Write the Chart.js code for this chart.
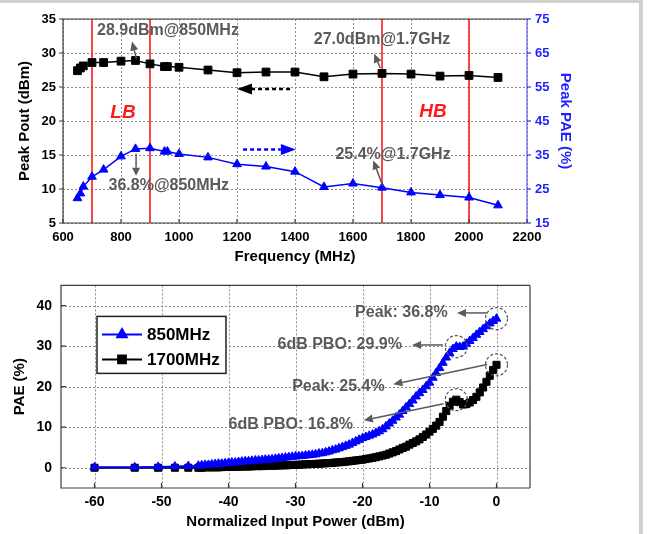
<!DOCTYPE html>
<html>
<head>
<meta charset="utf-8">
<title>Peak Pout / PAE</title>
<script src="https://cdn.jsdelivr.net/npm/chart.js@4.4.0/dist/chart.umd.min.js"></script>
<style>
  body { margin: 0; background: #fff; }
  #wrap { position: relative; width: 648px; height: 534px; overflow: hidden; background: #fff; }
  canvas { position: absolute; left: 0; }
  #topChart { top: 0; }
  #bottomChart { top: 268px; }
  .edge { position: absolute; background: #cfcfcf; }
</style>
</head>
<body>
<div id="wrap">
  <canvas id="topChart" width="648" height="268"></canvas>
  <canvas id="bottomChart" width="648" height="266"></canvas>
  <div class="edge" style="left:0;top:0;width:643px;height:3px"></div>
  <div class="edge" style="left:639px;top:0;width:4px;height:534px"></div>
</div>
<script>
// --- sweep over frequency ---
const freqMHz  = [650, 660, 670, 700, 740, 800, 850, 900, 950, 960, 1000, 1100, 1200, 1300, 1400, 1500, 1600, 1700, 1800, 1900, 2000, 2100];
const peakPout = [27.4, 27.8, 28.1, 28.6, 28.6, 28.8, 28.9, 28.4, 28.0, 28.0, 27.9, 27.5, 27.1, 27.2, 27.2, 26.5, 26.9, 27.0, 26.9, 26.6, 26.7, 26.4];
const peakPAE  = [22.3, 23.7, 25.7, 28.6, 30.7, 34.6, 36.8, 37.0, 36.0, 36.0, 35.3, 34.3, 32.3, 31.6, 30.1, 25.6, 26.6, 25.4, 24.0, 23.2, 22.5, 20.2];
const bandEdges = [700, 900, 1700, 2000];

// --- PAE vs normalized input power ---
const pinDbm = [-60, -54, -50.5, -48, -46, -44.5,
  -44, -43.5, -43, -42.5, -42, -41.5, -41, -40.5, -40,
  -39.5, -39, -38.5, -38, -37.5, -37, -36.5, -36, -35.5, -35,
  -34.5, -34, -33.5, -33, -32.5, -32, -31.5, -31, -30.5, -30,
  -29.5, -29, -28.5, -28, -27.5, -27, -26.5, -26, -25.5, -25,
  -24.5, -24, -23.5, -23, -22.5, -22, -21.5, -21, -20.5, -20,
  -19.5, -19, -18.5, -18, -17.5, -17, -16.5, -16, -15.5, -15,
  -14.5, -14, -13.5, -13, -12.5, -12, -11.5, -11, -10.5, -10,
  -9.5, -9, -8.5, -8, -7.5, -7, -6.5, -6, -5.5, -5,
  -4.5, -4, -3.5, -3, -2.5, -2, -1.5, -1, -0.5, 0];
const pae850 = [0.1, 0.1, 0.2, 0.3, 0.4, 0.5,
  0.6, 0.7, 0.7, 0.8, 0.9, 1.0, 1.0, 1.1, 1.2,
  1.3, 1.3, 1.4, 1.5, 1.6, 1.6, 1.7, 1.8, 1.8, 1.9,
  2.0, 2.0, 2.1, 2.2, 2.3, 2.4, 2.5, 2.6, 2.7, 2.8,
  2.85, 2.9, 3.0, 3.1, 3.2, 3.3, 3.5, 3.6, 3.8, 4.0,
  4.3, 4.5, 4.8, 5.1, 5.4, 5.7, 6.1, 6.5, 6.9, 7.3,
  7.6, 7.9, 8.2, 8.6, 9.0, 9.5, 10.2, 10.9, 11.6, 12.4,
  13.1, 14.0, 14.9, 15.7, 16.6, 17.6, 18.4, 19.2, 20.1, 21.0,
  22.2, 23.4, 24.6, 25.9, 27.2, 28.3, 29.3, 29.9, 29.8, 29.9,
  30.6, 31.3, 32.0, 32.8, 33.5, 34.2, 34.9, 35.6, 36.2, 36.8];
const pae1700 = [0, 0, 0, 0, 0, 0,
  0.0, 0.1, 0.1, 0.1, 0.1, 0.1, 0.15, 0.2, 0.2,
  0.2, 0.2, 0.25, 0.3, 0.3, 0.3, 0.35, 0.4, 0.4, 0.4,
  0.45, 0.5, 0.5, 0.5, 0.55, 0.6, 0.6, 0.65, 0.7, 0.7,
  0.75, 0.8, 0.85, 0.9, 0.9, 0.95, 1.0, 1.05, 1.1, 1.15,
  1.2, 1.3, 1.35, 1.4, 1.5, 1.6, 1.7, 1.8, 1.9, 2.0,
  2.15, 2.3, 2.45, 2.6, 2.8, 3.0, 3.2, 3.5, 3.8, 4.1,
  4.5, 4.9, 5.2, 5.7, 6.1, 6.5, 7.0, 7.6, 8.2, 8.9,
  9.6, 10.4, 11.3, 12.6, 14.0, 15.3, 16.3, 16.8, 16.2, 15.6,
  15.7, 16.1, 16.7, 17.5, 18.6, 19.8, 21.2, 22.7, 24.1, 25.4];
const pinTicks = [-60, -50, -40, -30, -20, -10, 0];
const paeTicks = [0, 10, 20, 30, 40];

const FONT = "'Liberation Sans', Arial, sans-serif";
const BLUE = '#0000ff';
const NOTE = '#5a5a5a';
Chart.defaults.font.family = FONT;

const toXY = (xs, ys) => xs.map((x, i) => ({ x: x, y: ys[i] }));

function arrow(ctx, x1, y1, x2, y2, color, width, dash, hl, hw) {
  const a = Math.atan2(y2 - y1, x2 - x1);
  const c = Math.cos(a), s = Math.sin(a);
  ctx.save();
  ctx.strokeStyle = color;
  ctx.fillStyle = color;
  ctx.lineWidth = width;
  ctx.setLineDash(dash || []);
  ctx.beginPath();
  ctx.moveTo(x1, y1);
  ctx.lineTo(x2 - c * hl, y2 - s * hl);
  ctx.stroke();
  ctx.setLineDash([]);
  ctx.beginPath();
  ctx.moveTo(x2, y2);
  ctx.lineTo(x2 - c * hl - s * hw, y2 - s * hl + c * hw);
  ctx.lineTo(x2 - c * hl + s * hw, y2 - s * hl - c * hw);
  ctx.closePath();
  ctx.fill();
  ctx.restore();
}

function note(ctx, text, x, y, color, font) {
  ctx.save();
  ctx.fillStyle = color;
  ctx.font = font;
  ctx.textAlign = 'center';
  ctx.textBaseline = 'middle';
  ctx.fillText(text, x, y);
  ctx.restore();
}

// dotted grid, drawn by hand so the dots stay crisp
function dottedGrid(ctx, a, xs, ys) {
  ctx.save();
  ctx.strokeStyle = '#8f8f8f';
  ctx.lineWidth = 1;
  ctx.setLineDash([2, 2]);
  ctx.beginPath();
  xs.forEach(p => {
    const px = Math.round(p) + 0.5;
    ctx.moveTo(px, a.top);
    ctx.lineTo(px, a.bottom);
  });
  ys.forEach(p => {
    const py = Math.round(p) + 0.5;
    ctx.moveTo(a.left, py);
    ctx.lineTo(a.right, py);
  });
  ctx.stroke();
  ctx.restore();
}

function frame(ctx, a, rightColor) {
  ctx.save();
  ctx.lineWidth = 1.2;
  ctx.strokeStyle = '#3c3c3c';
  ctx.beginPath();
  ctx.moveTo(a.right, a.top);
  ctx.lineTo(a.left, a.top);
  ctx.lineTo(a.left, a.bottom);
  ctx.lineTo(a.right, a.bottom);
  ctx.stroke();
  ctx.strokeStyle = rightColor;
  ctx.beginPath();
  ctx.moveTo(a.right, a.top);
  ctx.lineTo(a.right, a.bottom);
  ctx.stroke();
  ctx.restore();
}

// short tick marks; positive len points into the plot
function tickMarks(ctx, scale, a, color, len) {
  ctx.save();
  ctx.strokeStyle = color;
  ctx.lineWidth = 1.2;
  ctx.beginPath();
  scale.ticks.forEach(t => {
    const p = scale.getPixelForValue(t.value);
    if (scale.isHorizontal()) {
      ctx.moveTo(p, a.bottom);
      ctx.lineTo(p, a.bottom - len);
    } else if (scale.position === 'left') {
      ctx.moveTo(a.left, p);
      ctx.lineTo(a.left + len, p);
    } else {
      ctx.moveTo(a.right, p);
      ctx.lineTo(a.right + len, p);
    }
  });
  ctx.stroke();
  ctx.restore();
}

const tickPixels = s => s.ticks.map(t => s.getPixelForValue(t.value));

const topMarks = {
  id: 'topMarks',
  beforeDatasetsDraw(chart) {
    const { ctx, chartArea: a, scales: { x, y } } = chart;
    dottedGrid(ctx, a, tickPixels(x), tickPixels(y));
    ctx.save();
    ctx.strokeStyle = '#ff1a1a';
    ctx.lineWidth = 1.6;
    bandEdges.forEach(f => {
      const px = x.getPixelForValue(f);
      ctx.beginPath();
      ctx.moveTo(px, a.top);
      ctx.lineTo(px, a.bottom);
      ctx.stroke();
    });
    ctx.restore();
  },
  afterDatasetsDraw(chart) {
    const { ctx, chartArea: a, scales: { x, y, y1 } } = chart;
    frame(ctx, a, '#5c5cff');
    tickMarks(ctx, x, a, '#3c3c3c', 4);
    tickMarks(ctx, y, a, '#3c3c3c', -4);
    tickMarks(ctx, y1, a, BLUE, 4);

    const X = v => x.getPixelForValue(v);
    const L = v => y.getPixelForValue(v);
    const R = v => y1.getPixelForValue(v);
    const i850 = freqMHz.indexOf(850), i1700 = freqMHz.indexOf(1700);

    const band = 'italic bold 19px ' + FONT;
    note(ctx, 'LB', X(807), L(21.2), '#ff1a1a', band);
    note(ctx, 'HB', X(1876), L(21.3), '#ff1a1a', band);

    const f = 'bold 16px ' + FONT;
    note(ctx, peakPout[i850].toFixed(1) + 'dBm@850MHz', X(962), L(33.3), NOTE, f);
    note(ctx, peakPout[i1700].toFixed(1) + 'dBm@1.7GHz', X(1700), L(31.9), NOTE, f);
    note(ctx, peakPAE[i850].toFixed(1) + '%@850MHz', X(965), R(25.9), NOTE, f);
    note(ctx, peakPAE[i1700].toFixed(1) + '%@1.7GHz', X(1738), R(35.1), NOTE, f);

    arrow(ctx, X(853), L(29.2), X(838), L(31.7), NOTE, 1.5, null, 9, 4);
    arrow(ctx, X(1694), L(27.8), X(1673), L(29.9), NOTE, 1.5, null, 9, 4);
    arrow(ctx, X(852), R(35.4), X(852), R(28.9), NOTE, 1.5, null, 8, 4);
    arrow(ctx, X(1702), R(26.0), X(1670), R(33.4), NOTE, 1.5, null, 9, 4);

    // which axis each curve belongs to
    arrow(ctx, X(1383), L(24.7), X(1200), L(24.7), '#000', 2.5, [4, 3], 15, 5.5);
    arrow(ctx, X(1221), L(15.8), X(1403), L(15.8), BLUE, 2.5, [4, 3], 15, 5.5);
  }
};

const bottomMarks = {
  id: 'bottomMarks',
  beforeDatasetsDraw(chart) {
    const { ctx, chartArea: a, scales: { x, y } } = chart;
    dottedGrid(ctx, a, tickPixels(x), tickPixels(y));
  },
  afterDatasetsDraw(chart) {
    const { ctx, chartArea: a, scales: { x, y } } = chart;
    frame(ctx, a, '#3c3c3c');
    tickMarks(ctx, x, a, '#3c3c3c', 5);
    tickMarks(ctx, y, a, '#3c3c3c', 5);

    const X = v => x.getPixelForValue(v);
    const Y = v => y.getPixelForValue(v);
    const iPk = pinDbm.indexOf(0), iBo = pinDbm.indexOf(-6);

    // dashed rings on peak and 6 dB back-off points
    ctx.save();
    ctx.strokeStyle = '#555';
    ctx.lineWidth = 1.2;
    ctx.setLineDash([3, 2]);
    [[iPk, pae850], [iBo, pae850], [iPk, pae1700], [iBo, pae1700]].forEach(([i, s]) => {
      ctx.beginPath();
      ctx.arc(X(pinDbm[i]), Y(s[i]), 11, 0, Math.PI * 2);
      ctx.stroke();
    });
    ctx.restore();

    const f = 'bold 16px ' + FONT;
    note(ctx, 'Peak: ' + pae850[iPk].toFixed(1) + '%', X(-14.2), Y(38.2), NOTE, f);
    note(ctx, '6dB PBO: ' + pae850[iBo].toFixed(1) + '%', X(-23.4), Y(30.4), NOTE, f);
    note(ctx, 'Peak: ' + pae1700[iPk].toFixed(1) + '%', X(-23.6), Y(20.0), NOTE, f);
    note(ctx, '6dB PBO: ' + pae1700[iBo].toFixed(1) + '%', X(-30.7), Y(10.6), NOTE, f);

    arrow(ctx, X(-1.4), Y(38.2), X(-5.9), Y(38.2), NOTE, 1.5, null, 9, 4);
    arrow(ctx, X(-8.0), Y(30.3), X(-12.6), Y(30.3), NOTE, 1.5, null, 9, 4);
    arrow(ctx, X(-1.4), Y(25.5), X(-15.4), Y(20.6), NOTE, 1.5, null, 9, 4);
    arrow(ctx, X(-7.9), Y(15.8), X(-19.8), Y(11.7), NOTE, 1.5, null, 9, 4);

    // legend box
    const bx = a.left + 36, by = a.top + 31, bw = 129, bh = 57;
    ctx.save();
    ctx.fillStyle = '#fff';
    ctx.fillRect(bx, by, bw, bh);
    ctx.strokeStyle = '#222';
    ctx.lineWidth = 1.5;
    ctx.strokeRect(bx, by, bw, bh);
    ctx.font = 'bold 17px ' + FONT;
    ctx.textBaseline = 'middle';
    chart.data.datasets.forEach((ds, i) => {
      const ry = by + 18 + i * 25;
      ctx.strokeStyle = ds.borderColor;
      ctx.lineWidth = 2;
      ctx.beginPath();
      ctx.moveTo(bx + 5, ry);
      ctx.lineTo(bx + 45, ry);
      ctx.stroke();
      Chart.helpers.drawPoint(ctx, { pointStyle: ds.pointStyle, radius: 5.5, borderWidth: 1 }, bx + 25, ry);
      ctx.fillStyle = ds.borderColor;
      ctx.fill();
      ctx.fillStyle = '#000';
      ctx.fillText(ds.label, bx + 50, ry + 1);
    });
    ctx.restore();
  }
};

const tickFont = { size: 13, weight: 'bold' };
const titleFont = { size: 15, weight: 'bold' };
const noGrid = { display: false, drawTicks: false };
const plain = v => String(v);

new Chart(document.getElementById('topChart'), {
  type: 'line',
  data: {
    datasets: [
      {
        label: 'Peak Pout', yAxisID: 'y', data: toXY(freqMHz, peakPout),
        borderColor: '#000', backgroundColor: '#000', borderWidth: 1.5,
        pointStyle: 'rect', pointRadius: 5.5, pointBorderWidth: 1
      },
      {
        label: 'Peak PAE', yAxisID: 'y1', data: toXY(freqMHz, peakPAE),
        borderColor: BLUE, backgroundColor: BLUE, borderWidth: 1.5,
        pointStyle: 'triangle', pointRadius: 5, pointBorderWidth: 1
      }
    ]
  },
  options: {
    responsive: false, animation: false, devicePixelRatio: 1,
    layout: { padding: { left: 0, right: 61, top: 19, bottom: 0 } },
    plugins: { legend: { display: false }, tooltip: { enabled: false } },
    scales: {
      x: {
        type: 'linear', min: 600, max: 2200,
        ticks: { stepSize: 200, font: tickFont, color: '#000', padding: 7, maxRotation: 0, autoSkip: false, callback: plain },
        grid: noGrid, border: { display: false },
        title: { display: true, text: 'Frequency (MHz)', font: titleFont, color: '#000', padding: { top: 0, bottom: 2 } },
        afterFit(s) { s.height = 45; }
      },
      y: {
        position: 'left', min: 5, max: 35,
        ticks: { stepSize: 5, font: tickFont, color: '#000', padding: 7, callback: plain },
        grid: noGrid, border: { display: false },
        title: { display: true, text: 'Peak Pout (dBm)', font: titleFont, color: '#000', padding: { top: 16, bottom: 0 } },
        afterFit(s) { s.width = 63; }
      },
      y1: {
        position: 'right', min: 15, max: 75,
        ticks: { stepSize: 10, font: tickFont, color: '#1f1fff', padding: 8, callback: plain },
        grid: noGrid, border: { display: false },
        title: { display: true, text: 'Peak PAE (%)', font: titleFont, color: '#1f1fff', padding: { top: 13, bottom: 0 } },
        afterFit(s) { s.width = 60; }
      }
    }
  },
  plugins: [topMarks]
});

new Chart(document.getElementById('bottomChart'), {
  type: 'line',
  data: {
    datasets: [
      {
        label: '850MHz', data: toXY(pinDbm, pae850),
        borderColor: BLUE, backgroundColor: BLUE, borderWidth: 2,
        pointStyle: 'triangle', pointRadius: 5, pointBorderWidth: 1
      },
      {
        label: '1700MHz', data: toXY(pinDbm, pae1700),
        borderColor: '#000', backgroundColor: '#000', borderWidth: 2,
        pointStyle: 'rect', pointRadius: 5, pointBorderWidth: 1
      }
    ]
  },
  options: {
    responsive: false, animation: false, devicePixelRatio: 1,
    layout: { padding: { left: 0, right: 118, top: 14, bottom: 0 } },
    plugins: { legend: { display: false }, tooltip: { enabled: false } },
    scales: {
      x: {
        type: 'linear', min: -65, max: 5,
        afterBuildTicks(s) { s.ticks = pinTicks.map(v => ({ value: v })); },
        ticks: { font: { size: 14, weight: 'bold' }, color: '#000', padding: 6, maxRotation: 0, autoSkip: false, callback: plain },
        grid: noGrid, border: { display: false },
        title: { display: true, text: 'Normalized Input Power (dBm)', font: titleFont, color: '#000', padding: { top: 0, bottom: 3 } },
        afterFit(s) { s.height = 46; }
      },
      y: {
        min: -5, max: 45,
        afterBuildTicks(s) { s.ticks = paeTicks.map(v => ({ value: v })); },
        ticks: { font: { size: 14, weight: 'bold' }, color: '#000', padding: 9, callback: plain },
        grid: noGrid, border: { display: false },
        title: { display: true, text: 'PAE (%)', font: titleFont, color: '#000', padding: { top: 11, bottom: 0 } },
        afterFit(s) { s.width = 61; }
      }
    }
  },
  plugins: [bottomMarks]
});
</script>
</body>
</html>
